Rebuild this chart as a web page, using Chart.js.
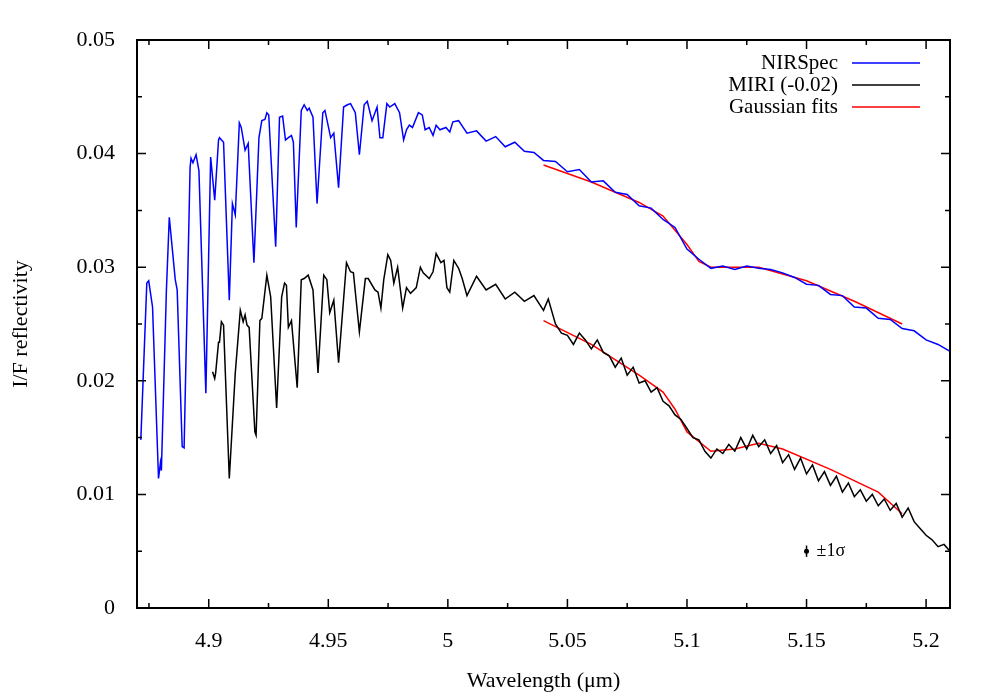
<!DOCTYPE html>
<html>
<head>
<meta charset="utf-8">
<script src="https://cdn.jsdelivr.net/npm/chart.js@4/dist/chart.umd.min.js"></script>
<style>
  html, body { margin: 0; padding: 0; background: #fff; }
  #wrap { width: 996px; height: 698px; }
</style>
</head>
<body>
<div id="wrap"><canvas id="chart" width="996" height="698"></canvas></div>
<script>
const xTicks = [4.9, 4.95, 5.0, 5.05, 5.1, 5.15, 5.2];
const yTicks = [0, 0.01, 0.02, 0.03, 0.04, 0.05];

const nirspecX = [4.8716, 4.8741, 4.8749, 4.8765, 4.8790, 4.8798, 4.8802, 4.8823, 4.8835, 4.8860, 4.8868, 4.8889, 4.8897, 4.8922, 4.8926, 4.8934, 4.8947, 4.8959, 4.8988, 4.9008, 4.9025, 4.9041, 4.9045, 4.9062, 4.9086, 4.9099, 4.9111, 4.9128, 4.9136, 4.9152, 4.9165, 4.9189, 4.9210, 4.9222, 4.9235, 4.9243, 4.9251, 4.9280, 4.9296, 4.9309, 4.9321, 4.9333, 4.9346, 4.9354, 4.9366, 4.9387, 4.9399, 4.9412, 4.9420, 4.9436, 4.9453, 4.9477, 4.9486, 4.9510, 4.9523, 4.9543, 4.9564, 4.9580, 4.9593, 4.9613, 4.9630, 4.9650, 4.9663, 4.9683, 4.9704, 4.9716, 4.9728, 4.9745, 4.9757, 4.9778, 4.9798, 4.9815, 4.9827, 4.9839, 4.9852, 4.9877, 4.9893, 4.9905, 4.9922, 4.9938, 4.9951, 4.9967, 4.9992, 5.0008, 5.0021, 5.0045, 5.008, 5.012, 5.016, 5.02, 5.024, 5.028, 5.032, 5.036, 5.04, 5.045, 5.05, 5.055, 5.06, 5.065, 5.07, 5.075, 5.08, 5.085, 5.09, 5.095, 5.10, 5.105, 5.11, 5.115, 5.12, 5.125, 5.13, 5.135, 5.14, 5.145, 5.15, 5.155, 5.16, 5.165, 5.17, 5.175, 5.18, 5.185, 5.19, 5.195, 5.20, 5.205, 5.21];
const nirspecY = [0.0148, 0.0286, 0.0288, 0.0265, 0.0114, 0.0128, 0.0121, 0.0280, 0.0344, 0.0289, 0.0280, 0.0142, 0.0141, 0.0388, 0.0396, 0.0392, 0.0399, 0.0385, 0.0189, 0.0397, 0.0359, 0.0412, 0.0414, 0.0410, 0.0271, 0.0356, 0.0346, 0.0427, 0.0423, 0.0403, 0.0409, 0.0304, 0.0414, 0.0429, 0.0430, 0.0436, 0.0434, 0.0318, 0.0432, 0.0433, 0.0412, 0.0414, 0.0416, 0.0410, 0.0335, 0.0438, 0.0443, 0.0438, 0.0440, 0.0432, 0.0356, 0.0436, 0.0438, 0.0414, 0.0418, 0.0370, 0.0441, 0.0443, 0.0444, 0.0436, 0.0399, 0.0443, 0.0446, 0.0429, 0.0441, 0.0414, 0.0414, 0.0444, 0.0441, 0.0444, 0.0436, 0.0412, 0.0421, 0.0425, 0.0423, 0.0436, 0.0434, 0.0421, 0.0423, 0.0416, 0.0425, 0.0421, 0.0423, 0.0419, 0.0428, 0.0429, 0.0418, 0.0420, 0.0411, 0.0415, 0.0406, 0.0410, 0.0402, 0.0401, 0.0394, 0.0393, 0.0384, 0.0386, 0.0375, 0.0376, 0.0366, 0.0364, 0.0354, 0.0352, 0.0342, 0.0335, 0.0316, 0.0307, 0.0299, 0.0301, 0.0298, 0.0301, 0.0299, 0.0298, 0.0295, 0.0291, 0.0285, 0.0284, 0.0276, 0.0275, 0.0265, 0.0264, 0.0255, 0.0254, 0.0246, 0.0244, 0.0236, 0.0232, 0.0226];

const miriX = [4.9016, 4.9025, 4.9029, 4.9041, 4.9045, 4.9053, 4.9062, 4.9086, 4.9111, 4.9132, 4.9144, 4.9152, 4.9160, 4.9169, 4.9193, 4.9198, 4.9214, 4.9222, 4.9243, 4.9259, 4.9284, 4.9305, 4.9317, 4.9325, 4.9333, 4.9346, 4.9370, 4.9387, 4.9399, 4.9416, 4.9436, 4.9457, 4.9481, 4.9494, 4.9506, 4.9523, 4.9543, 4.9576, 4.9593, 4.9605, 4.9630, 4.9655, 4.9667, 4.9695, 4.9708, 4.9720, 4.9732, 4.9749, 4.9761, 4.9774, 4.9790, 4.9811, 4.9827, 4.9844, 4.9868, 4.9885, 4.9897, 4.9922, 4.9938, 4.9951, 4.9971, 4.9984, 4.9996, 5.0008, 5.0025, 5.0045, 5.006, 5.008, 5.012, 5.016, 5.02, 5.024, 5.028, 5.032, 5.036, 5.04, 5.042,
  5.045, 5.0475, 5.05, 5.0525, 5.055, 5.0575, 5.06, 5.0625, 5.065, 5.0675, 5.07, 5.0725, 5.075, 5.0775, 5.08, 5.0825, 5.085, 5.0875, 5.09, 5.0925, 5.095, 5.0975, 5.10, 5.1025, 5.105, 5.1075, 5.11, 5.1125, 5.115, 5.1175, 5.12, 5.1225, 5.125, 5.1275, 5.13, 5.1325, 5.135, 5.1375, 5.14, 5.1425, 5.145, 5.1475, 5.15, 5.1525, 5.155, 5.1575, 5.16, 5.1625, 5.165, 5.1675, 5.17, 5.1725, 5.175, 5.1775, 5.18, 5.1825, 5.185, 5.1875, 5.19, 5.1925, 5.195, 5.1975, 5.20, 5.2025, 5.205, 5.2075, 5.21];
const miriY = [0.0208, 0.0202, 0.0207, 0.0234, 0.0234, 0.0252, 0.0249, 0.0114, 0.0207, 0.0262, 0.0252, 0.0258, 0.0249, 0.0247, 0.0155, 0.0152, 0.0253, 0.0255, 0.0293, 0.0274, 0.0176, 0.0274, 0.0286, 0.0284, 0.0247, 0.0253, 0.0194, 0.0289, 0.0290, 0.0293, 0.0280, 0.0207, 0.0293, 0.0289, 0.0260, 0.0271, 0.0216, 0.0304, 0.0296, 0.0295, 0.0243, 0.0290, 0.0290, 0.0280, 0.0278, 0.0264, 0.0289, 0.0311, 0.0306, 0.0286, 0.0300, 0.0264, 0.0282, 0.0277, 0.0282, 0.0300, 0.0295, 0.0290, 0.0296, 0.0312, 0.0304, 0.0306, 0.0282, 0.0278, 0.0306, 0.0299, 0.0290, 0.0275, 0.0292, 0.0280, 0.0285, 0.0272, 0.0278, 0.0270, 0.0275, 0.0262, 0.0272,
  0.0250, 0.0242, 0.0240, 0.0232, 0.0242, 0.0236, 0.0228, 0.0236, 0.0225, 0.0222, 0.0212, 0.0220, 0.0205, 0.0212, 0.0198, 0.0200, 0.0190, 0.0194, 0.0182, 0.0178, 0.0170, 0.0166, 0.0158, 0.0150, 0.0148, 0.0138, 0.0132, 0.0140, 0.0136, 0.0144, 0.0138, 0.0150, 0.0140, 0.0152, 0.0142, 0.0148, 0.0136, 0.0143, 0.0128, 0.0135, 0.0122, 0.0132, 0.0118, 0.0126, 0.0112, 0.0120, 0.0108, 0.0116, 0.0102, 0.0110, 0.0098, 0.0104, 0.0094, 0.0100, 0.0090, 0.0096, 0.0086, 0.0092, 0.0080, 0.0088, 0.0076, 0.0070, 0.0064, 0.0060, 0.0054, 0.0056, 0.0050];

const fitNirX = [5.04, 5.06, 5.08, 5.09, 5.10, 5.105, 5.11, 5.13, 5.15, 5.17, 5.19];
const fitNirY = [0.0390, 0.0375, 0.0357, 0.0345, 0.0320, 0.0305, 0.0300, 0.0300, 0.0288, 0.0270, 0.0250];
const fitMiriX = [5.04, 5.06, 5.08, 5.09, 5.095, 5.10, 5.11, 5.12, 5.13, 5.14, 5.16, 5.18, 5.19];
const fitMiriY = [0.0253, 0.0232, 0.0205, 0.0190, 0.0175, 0.0155, 0.0138, 0.0140, 0.0145, 0.0140, 0.0122, 0.0102, 0.0083];

const errX = 5.15;
const errY = 0.0050;
const errSigma = 0.0005;

const legendLabels = ["NIRSpec", "MIRI (-0.02)", "Gaussian fits"];
const legendColours = ["#0000ff", "#000000", "#ff0000"];

const FONT = "'Liberation Serif', 'DejaVu Serif', serif";
const pairs = (xs, ys) => xs.map((x, i) => ({ x, y: ys[i] }));

const framePlugin = {
  id: "frame",
  afterDraw(chart) {
    const { ctx, chartArea: a, scales } = chart;
    ctx.save();
    ctx.strokeStyle = "#000";
    ctx.lineWidth = 2;
    ctx.strokeRect(a.left, a.top, a.right - a.left, a.bottom - a.top);
    ctx.lineWidth = 1.5;
    for (let i = 0; i <= 13; i++) {
      const v = 4.875 + i * 0.025;
      const px = scales.x.getPixelForValue(v);
      const len = i % 2 === 1 ? 9 : 5;
      ctx.beginPath();
      ctx.moveTo(px, a.bottom); ctx.lineTo(px, a.bottom - len);
      ctx.moveTo(px, a.top); ctx.lineTo(px, a.top + len);
      ctx.stroke();
    }
    for (let i = 0; i <= 10; i++) {
      const py = scales.y.getPixelForValue(i * 0.005);
      const len = i % 2 === 0 ? 9 : 5;
      ctx.beginPath();
      ctx.moveTo(a.left, py); ctx.lineTo(a.left + len, py);
      ctx.moveTo(a.right, py); ctx.lineTo(a.right - len, py);
      ctx.stroke();
    }
    // error bar
    const ex = scales.x.getPixelForValue(errX);
    const ey = scales.y.getPixelForValue(errY);
    const e1 = scales.y.getPixelForValue(errY + errSigma);
    const e2 = scales.y.getPixelForValue(errY - errSigma);
    ctx.lineWidth = 1.5;
    ctx.beginPath(); ctx.moveTo(ex, e1); ctx.lineTo(ex, e2); ctx.stroke();
    ctx.fillStyle = "#000";
    ctx.beginPath(); ctx.arc(ex, ey, 2.5, 0, Math.PI * 2); ctx.fill();
    ctx.font = "18px " + FONT;
    ctx.textBaseline = "middle";
    ctx.fillText("±1σ", ex + 10, ey);
    // legend
    ctx.font = "21px " + FONT;
    ctx.textAlign = "right";
    legendLabels.forEach((label, i) => {
      const y = 63 + i * 22;
      ctx.fillStyle = "#000";
      ctx.fillText(label, 838, y);
      ctx.strokeStyle = legendColours[i];
      ctx.lineWidth = 1.5;
      ctx.beginPath(); ctx.moveTo(852, y); ctx.lineTo(920, y); ctx.stroke();
    });
    ctx.restore();
  }
};

const line = (data, color, width) => ({
  data, borderColor: color, borderWidth: width, pointRadius: 0, fill: false, tension: 0
});

new Chart(document.getElementById("chart"), {
  type: "line",
  data: {
    datasets: [
      line(pairs(nirspecX, nirspecY), "#0000ff", 1.5),
      line(pairs(miriX, miriY), "#000000", 1.5),
      line(pairs(fitNirX, fitNirY), "#ff0000", 1.5),
      line(pairs(fitMiriX, fitMiriY), "#ff0000", 1.5)
    ]
  },
  options: {
    responsive: false,
    animation: false,
    layout: { padding: { top: 40, right: 46, left: 0, bottom: 0 } },
    plugins: { legend: { display: false }, tooltip: { enabled: false } },
    scales: {
      x: {
        type: "linear", min: 4.87, max: 5.21,
        afterBuildTicks: s => { s.ticks = xTicks.map(v => ({ value: v })); },
        afterFit: s => { s.height = 90; },
        grid: { display: false },
        border: { display: false },
        ticks: { color: "#000", font: { family: FONT, size: 22 }, padding: 12, maxRotation: 0, callback: v => String(v) },
        title: { display: true, text: "Wavelength (μm)", color: "#000", font: { family: FONT, size: 22 }, padding: { top: 2 } }
      },
      y: {
        min: 0, max: 0.05,
        afterBuildTicks: s => { s.ticks = yTicks.map(v => ({ value: v })); },
        afterFit: s => { s.width = 137; },
        grid: { display: false },
        border: { display: false },
        ticks: { color: "#000", font: { family: FONT, size: 22 }, padding: 14, callback: v => String(+v.toFixed(2)) },
        title: { display: true, text: "I/F reflectivity", color: "#000", font: { family: FONT, size: 22 }, padding: { top: 8, bottom: 20 } }
      }
    }
  },
  plugins: [framePlugin]
});
</script>
</body>
</html>
